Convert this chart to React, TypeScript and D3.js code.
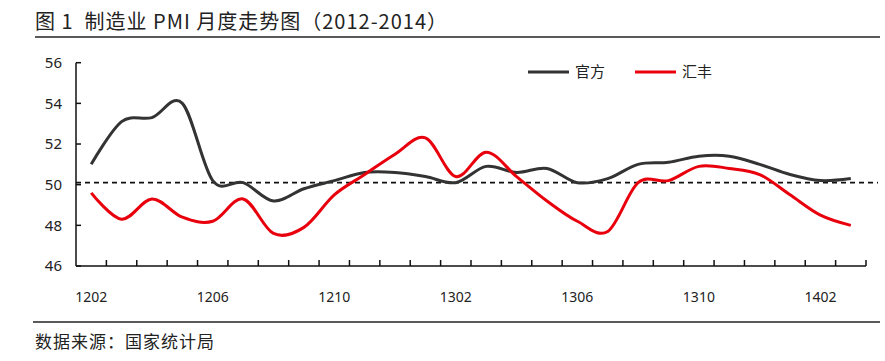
import React from "react";
import * as d3 from "d3";

const categories = [
  "1202", "1203", "1204", "1205", "1206", "1207", "1208", "1209", "1210", "1211", "1212",
  "1301", "1302", "1303", "1304", "1305", "1306", "1307", "1308", "1309", "1310", "1311", "1312",
  "1401", "1402", "1403",
];
const officialPMI = [
  51.0, 53.1, 53.3, 54.0, 50.2, 50.1, 49.2, 49.8, 50.2, 50.6, 50.6,
  50.4, 50.1, 50.9, 50.6, 50.8, 50.1, 50.3, 51.0, 51.1, 51.4, 51.4, 51.0,
  50.5, 50.2, 50.3,
];
const hsbcPMI = [
  49.6, 48.3, 49.3, 48.4, 48.2, 49.3, 47.6, 47.9, 49.5, 50.5, 51.5,
  52.3, 50.4, 51.6, 50.4, 49.2, 48.2, 47.7, 50.1, 50.2, 50.9, 50.8, 50.5,
  49.5, 48.5, 48.0,
];
const xTickLabels = ["1202", "1206", "1210", "1302", "1306", "1310", "1402"];
const yTicks = [46, 48, 50, 52, 54, 56];
const referenceLevel = 50.1;
const seriesNames = ["官方", "汇丰"];

const W = 885;
const H = 361;
const FONT = "'Noto Sans CJK SC', 'Noto Sans', sans-serif";
const NUMFONT = "'Noto Sans', 'DejaVu Sans', sans-serif";
const GRAY = "#333333";
const RED = "#e8000c";

export default function App() {
  const left = 76;
  const right = 866;
  const top = 62.7;
  const bottom = 266;

  const x = d3.scaleBand<string>().domain(categories).range([left, right]).padding(0);
  const bw = x.bandwidth();
  const cx = (c: string) => (x(c) as number) + bw / 2;
  const y = d3.scaleLinear().domain([46, 56]).range([bottom, top]);

  const line = d3
    .line<number>()
    .x((_, i) => cx(categories[i]))
    .y((d) => y(d))
    .curve(d3.curveCardinal.tension(0));

  const boundaries = categories.map((c) => x(c) as number).concat([right]);

  return (
    <svg
      width={W}
      height={H}
      style={{ position: "absolute", left: 0, top: 0, background: "#fff" }}
    >
      {/* Title */}
      <text
        x={35}
        y={29}
        fontFamily={FONT}
        fontSize={20}
        letterSpacing={1}
        fill="#222"
        style={{ whiteSpace: "pre" }}
      >
        图 1  制造业 PMI 月度走势图（2012-2014）
      </text>
      <line x1={35} x2={880} y1={37} y2={37} stroke="#222" strokeWidth={1.5} />

      {/* Reference dashed line */}
      <line
        x1={left}
        x2={right + 12}
        y1={y(referenceLevel)}
        y2={y(referenceLevel)}
        stroke="#111"
        strokeWidth={1.6}
        strokeDasharray="5,4"
      />

      {/* Y axis */}
      <line x1={left} x2={left} y1={top} y2={bottom} stroke="#111" strokeWidth={1.5} />
      {yTicks.map((t) => (
        <g key={t}>
          <line x1={left} x2={left + 5} y1={y(t)} y2={y(t)} stroke="#111" strokeWidth={1.5} />
          <text
            x={62}
            y={y(t)}
            dy="0.35em"
            textAnchor="end"
            fontFamily={NUMFONT}
            fontSize={15}
            fill="#222"
          >
            {t}
          </text>
        </g>
      ))}

      {/* X axis */}
      <line x1={left} x2={right} y1={bottom} y2={bottom} stroke="#111" strokeWidth={1.5} />
      {boundaries.slice(1).map((b, i) => (
        <line key={i} x1={b} x2={b} y1={bottom} y2={bottom - 6} stroke="#111" strokeWidth={1.5} />
      ))}
      {xTickLabels.map((l) => (
        <text
          key={l}
          x={cx(l)}
          y={297}
          dy="0.35em"
          textAnchor="middle"
          fontFamily={NUMFONT}
          fontSize={14}
          fill="#222"
        >
          {l}
        </text>
      ))}

      {/* Series */}
      <path d={line(officialPMI) || ""} fill="none" stroke={GRAY} strokeWidth={3} />
      <path d={line(hsbcPMI) || ""} fill="none" stroke={RED} strokeWidth={3} />

      {/* Legend */}
      <line x1={528} x2={569} y1={72} y2={72} stroke={GRAY} strokeWidth={3} />
      <text x={575} y={72} dy="0.35em" fontFamily={FONT} fontSize={15} fill="#222">
        {seriesNames[0]}
      </text>
      <line x1={635} x2={676} y1={72} y2={72} stroke={RED} strokeWidth={3} />
      <text x={682} y={72} dy="0.35em" fontFamily={FONT} fontSize={15} fill="#222">
        {seriesNames[1]}
      </text>

      {/* Footer */}
      <line x1={33} x2={880} y1={322} y2={322} stroke="#222" strokeWidth={1.5} />
      <text x={35} y={342} dy="0.35em" fontFamily={FONT} fontSize={17} letterSpacing={1} fill="#222">
        数据来源：国家统计局
      </text>
    </svg>
  );
}
